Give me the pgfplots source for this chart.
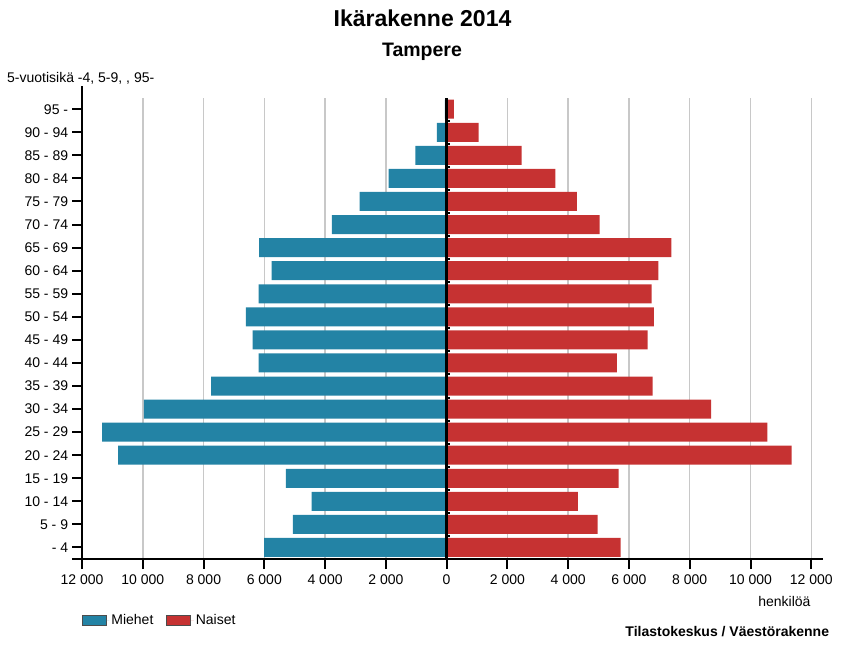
\documentclass[border=0pt]{standalone}
\usepackage{fontspec}
\setmainfont{Liberation Sans}
\usepackage{pgfplots}
\pgfplotsset{compat=1.18}
\definecolor{miehet}{RGB}{35,131,165}
\definecolor{naiset}{RGB}{198,50,50}
\definecolor{gridc}{RGB}{200,200,200}
\newcommand{\fs}{\fontsize{14pt}{16pt}\selectfont}
\begin{document}
\begin{tikzpicture}
\useasboundingbox (0,0) rectangle (849pt,-647pt);
\begin{axis}[
  at={(82pt,-559pt)}, anchor=south west,
  width=740.7pt, height=461.3pt, scale only axis,
  xmin=-12000, xmax=12376, ymin=-0.5, ymax=19.5,
  axis x line*=bottom, axis y line*=left,
  axis line style={line width=2.6pt, black},
  scaled x ticks=false,
  xtick={-12000,-10000,...,12000},
  xticklabels={12 000,10 000,8 000,6 000,4 000,2 000,0,2 000,4 000,6 000,8 000,10 000,12 000},
  ytick={0,...,19},
  yticklabels={- 4,5 - 9,10 - 14,15 - 19,20 - 24,25 - 29,30 - 34,35 - 39,40 - 44,45 - 49,50 - 54,55 - 59,60 - 64,65 - 69,70 - 74,75 - 79,80 - 84,85 - 89,90 - 94,95 -},
  tick align=outside, major tick length=10pt,
  major tick style={black, line width=2pt},
  xmajorgrids, grid style={gridc, line width=1.5pt},
  clip=false,
  xticklabel style={font=\fs, inner sep=0pt, anchor=north, yshift=-6pt},
  yticklabel style={font=\fs, inner sep=3.7pt, anchor=east},
  legend style={at={(axis description cs:0,-0.1329)}, anchor=west, draw=none, fill=none,
    inner sep=0pt, outer sep=0pt, font=\fs, legend columns=2,
    /tikz/every even column/.append style={column sep=11pt}},
  legend cell align=left,
  legend image code/.code={\draw[#1, draw=black!70, line width=0.8pt] (0pt,-5.3pt) rectangle (24pt,5.3pt); \path (0pt,0pt) -- (27pt,0pt);},
]
\addplot[xbar, bar shift=0pt, bar width=19pt, fill=miehet, draw=none] coordinates {
(-6003,0) (-5059,1) (-4444,2) (-5289,3) (-10809,4) (-11336,5) (-9963,6) (-7748,7)
(-6188,8) (-6386,9) (-6606,10) (-6188,11) (-5760,12) (-6168,13) (-3775,14) (-2864,15)
(-1909,16) (-1033,17) (-319,18) (-60,19)};
\addlegendentry{Miehet}
\addplot[xbar, bar shift=0pt, bar width=19pt, fill=naiset, draw=none] coordinates {
(5727,0) (4970,1) (4322,2) (5662,3) (11356,4) (10553,5) (8700,6) (6781,7)
(5606,8) (6616,9) (6824,10) (6748,11) (6965,12) (7393,13) (5036,14) (4289,15)
(3575,16) (2469,17) (1053,18) (240,19)};
\addlegendentry{Naiset}
\addplot[black, line width=3pt, forget plot] coordinates {(0,-0.5) (0,19.5)};
\pgfplotsinvokeforeach{0,...,18}{\draw[black, line width=2pt] (axis cs:0,#1+0.5) -- ++(3.5pt,0pt);}
\draw[black, line width=2.6pt] (axis cs:-12000,19.4) -- (axis cs:-12000,20);
\draw[black, line width=2.6pt] (axis cs:-12000,-0.5) -- ++(-10.3pt,0pt);
\end{axis}
\node[anchor=base, inner sep=0pt, font=\bfseries\fontsize{23pt}{27pt}\selectfont] at (422.5pt,-26.7pt) {Ikärakenne 2014};
\node[anchor=base, inner sep=0pt, font=\bfseries\fontsize{19.5pt}{23pt}\selectfont] at (422pt,-56.7pt) {Tampere};
\node[anchor=base west, inner sep=0pt, font=\fs] at (7pt,-82.3pt) {5-vuotisikä -4, 5-9, , 95-};
\node[anchor=base east, inner sep=0pt, font=\fs] at (810.7pt,-606.7pt) {henkilöä};
\node[anchor=base east, inner sep=0pt, font=\bfseries\fs] at (829.3pt,-636.7pt) {Tilastokeskus / Väestörakenne};
\end{tikzpicture}
\end{document}
